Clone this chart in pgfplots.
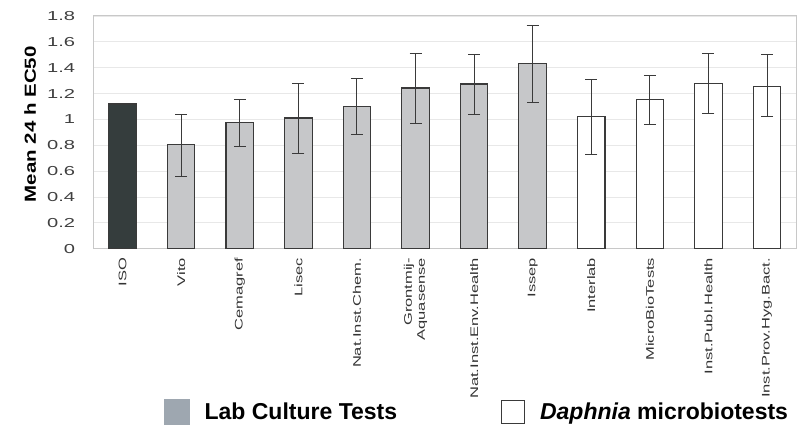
\documentclass[border=0pt]{standalone}
\usepackage{pgfplots}
\pgfplotsset{compat=1.18}
\usepackage{pgfplotstable}
\usepackage{fontspec}
\setmainfont{Liberation Sans}
\newfontfamily\widefont[FakeStretch=1.5]{Liberation Sans}
\newfontfamily\ywidefont[FakeStretch=1.55]{Liberation Sans}
\newfontfamily\labelfont[FakeStretch=1.28]{Liberation Sans}
\definecolor{isodark}{HTML}{353D3D}
\definecolor{labgray}{HTML}{C6C7C9}
\definecolor{leggray}{HTML}{9EA7B0}
\definecolor{edge}{HTML}{3A3A3A}
\definecolor{gridc}{HTML}{E8E8E8}
\definecolor{framec}{HTML}{C8C8C8}

\pgfplotstableread{
x y ep em
0 1.119 0 0
}\isodata
\pgfplotstableread{
x y ep em
1 0.804 0.238 0.242
2 0.975 0.180 0.181
3 1.011 0.268 0.271
4 1.098 0.222 0.216
5 1.243 0.268 0.271
6 1.274 0.229 0.235
7 1.434 0.294 0.305
}\labdata
\pgfplotstableread{
x y ep em
8 1.021 0.289 0.294
9 1.155 0.186 0.193
10 1.276 0.235 0.227
11 1.258 0.245 0.237
}\daphdata

\begin{document}
\begin{tikzpicture}
\begin{axis}[
  scale only axis,
  width=703pt, height=232.7pt,
  at={(93.3pt,178.3pt)}, anchor=south west,
  xmin=-0.5, xmax=11.5,
  ymin=0, ymax=1.8,
  ytick={0,0.2,...,1.8},
  xtick={0,...,11},
  xticklabels={ISO,Vito,Cemagref,Lisec,Nat.Inst.Chem.,{Grontmij-\\Aquasense},Nat.Inst.Env.Health,Issep,Interlab,MicroBioTests,Inst.Publ.Health,Inst.Prov.Hyg.Bact.},
  major tick length=0pt,
  axis line style={framec, line width=1pt},
  ymajorgrids, grid style={gridc, line width=0.8pt},
  /pgf/number format/.cd, fixed, precision=1, assume math mode=true,
  /pgfplots/.cd,
  yticklabel style={font=\ywidefont\fontsize{13}{15}\selectfont, text=black!75, inner sep=0pt, xshift=-18pt},
  xticklabel style={font=\widefont\fontsize{11}{13}\selectfont, text=black!80, rotate=90, anchor=east, inner sep=0pt, align=right},
  xticklabel shift=9pt,
  ylabel={Mean 24 h EC50},
  ylabel style={font=\labelfont\bfseries\fontsize{16}{18}\selectfont, at={(axis description cs:-0.09,0.535)}, anchor=center, rotate=0},
  ybar, bar shift=0pt, bar width=27.5pt,
  legend style={draw=none, fill=none, at={(axis description cs:0.1006,-0.6996)}, anchor=west,
    font=\bfseries\fontsize{23}{26}\selectfont, inner sep=0pt, nodes={inner sep=0pt},
    /tikz/every odd column/.append style={column sep=15pt},
    /tikz/every even column/.append style={column sep=104pt}},
  legend columns=2,
  clip=false,
]
\addplot[forget plot, fill=isodark, draw=edge, line width=1.1pt] table[x=x,y=y] {\isodata};
\addplot[forget plot, fill=labgray, draw=edge, line width=1.1pt,
  error bars/.cd, y dir=both, y explicit, error bar style={edge, line width=0.9pt},
  error mark options={edge, line width=0.9pt, mark size=6pt, rotate=90}]
  table[x=x,y=y,y error plus=ep,y error minus=em] {\labdata};
\addplot[forget plot, fill=white, draw=edge, line width=1.1pt,
  error bars/.cd, y dir=both, y explicit, error bar style={edge, line width=0.9pt},
  error mark options={edge, line width=0.9pt, mark size=6pt, rotate=90}]
  table[x=x,y=y,y error plus=ep,y error minus=em] {\daphdata};
\addlegendimage{legend image code/.code={\fill[leggray] (0pt,-12.5pt) rectangle (25pt,12.5pt);}}
\addlegendentry{Lab Culture Tests}
\addlegendimage{legend image code/.code={\draw[edge, line width=0.9pt] (0pt,-11.5pt) rectangle (23pt,11.5pt);}}
\addlegendentry{\textit{Daphnia} microbiotests}
\end{axis}
\path[use as bounding box] (0,0) rectangle (797pt,427pt);
\end{tikzpicture}
\end{document}
